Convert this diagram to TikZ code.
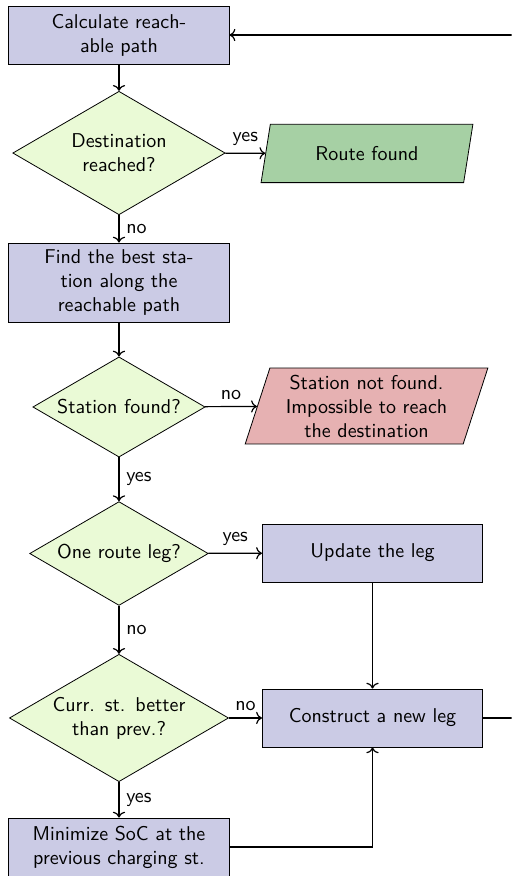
\documentclass[tikz,border=0pt]{standalone}
\usepackage{tikz}
\usetikzlibrary{arrows.meta,positioning,shapes.geometric}
\definecolor{blockfill}{RGB}{203,203,229}
\definecolor{decfill}{RGB}{234,250,214}
\definecolor{okfill}{RGB}{166,208,164}
\definecolor{failfill}{RGB}{230,177,178}

\begin{document}
\begin{tikzpicture}[font=\sffamily,
    block/.style={rectangle,draw,fill=blockfill,text width=9.5em,align=center,
                  minimum width=3.87cm,minimum height=1.02cm},
    decision/.style={diamond,draw,fill=decfill,aspect=1.72,text width=6.8em,
                     align=center,inner sep=1pt},
    io/.style={trapezium,trapezium left angle=81,trapezium right angle=99,
               draw,text width=9em,align=center},
    line/.style={draw,semithick,-{To}}]
  \useasboundingbox (0,0) rectangle (8.992,-15.394);
  \clip (0,0) rectangle (8.992,-15.394);
  % left column
  \node[block] (calc) at (2.091,-0.615) {Calculate reach-\\able path};
  \node[decision] (dest) at (2.091,-2.689) {Destination reached?};
  \node[block] (best) at (2.091,-4.964) {Find the best sta-\\tion along the\\reachable path};
  \node[decision] (stfound) at (2.091,-7.152) {Station found?};
  \node[decision] (oneleg) at (2.091,-9.727) {One route leg?};
  \node[decision] (better) at (2.091,-12.617) {Curr. st. better than prev.?};
  \node[block] (minsoc) at (2.091,-14.884) {Minimize SoC at the\\previous charging st.};
  % right column
  \node[io,fill=okfill,inner ysep=11pt] (found) at (6.449,-2.697) {Route found};
  \node[io,fill=failfill,trapezium left angle=72,trapezium right angle=108]
    (nostat) at (6.441,-7.135) {Station not found.\\Impossible to reach\\the destination};
  \node[block] (update) at (6.546,-9.718) {Update the leg};
  \node[block] (newleg) at (6.546,-12.617) {Construct a new leg};
  \coordinate (loop) at (9.3,0);
  % connectors
  \path[line] (calc) -- (dest);
  \path[line] (dest) -- node[above] {yes} (found);
  \path[line] (dest) -- node[right] {no} (best);
  \path[line] (best) -- (stfound);
  \path[line] (stfound) -- node[above] {no} (nostat);
  \path[line] (stfound) -- node[right] {yes} (oneleg);
  \path[line] (oneleg) -- node[above] {yes} (update);
  \path[line] (oneleg) -- node[right] {no} (better);
  \path[line] (better) -- node[above] {no} (newleg);
  \path[line] (better) -- node[right] {yes} (minsoc);
  \path[line] (update) -- (newleg);
  \path[line] (minsoc) -| (newleg);
  % back to the start
  \path[line] (newleg) -- (newleg -| loop) |- (calc);
\end{tikzpicture}
\end{document}
